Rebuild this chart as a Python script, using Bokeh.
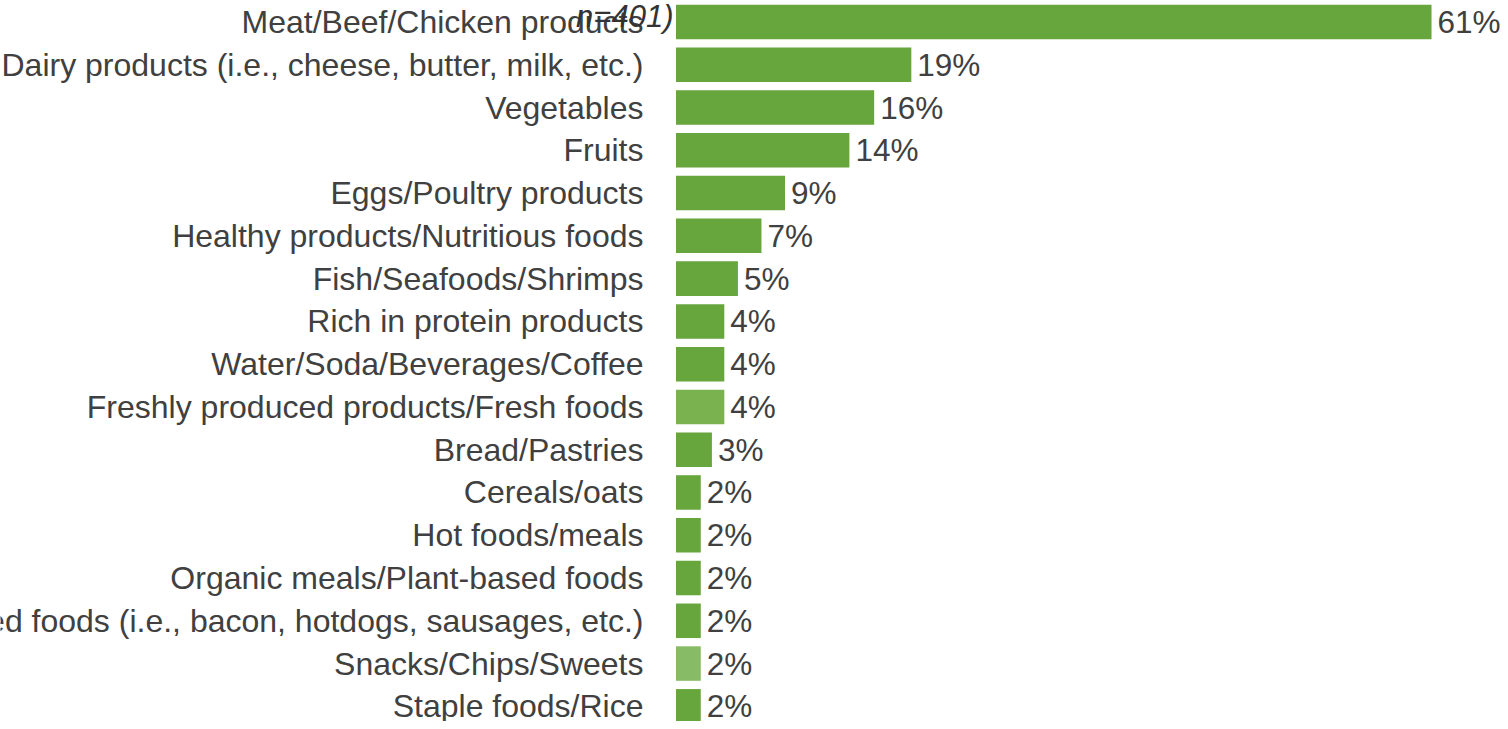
from bokeh.plotting import figure
from bokeh.models import Range1d, ColumnDataSource
from bokeh.core.properties import value
from bokeh.embed import file_html
from bokeh.resources import INLINE

categories = [
    "Meat/Beef/Chicken products",
    "Dairy products (i.e., cheese, butter, milk, etc.)",
    "Vegetables",
    "Fruits",
    "Eggs/Poultry products",
    "Healthy products/Nutritious foods",
    "Fish/Seafoods/Shrimps",
    "Rich in protein products",
    "Water/Soda/Beverages/Coffee",
    "Freshly produced products/Fresh foods",
    "Bread/Pastries",
    "Cereals/oats",
    "Hot foods/meals",
    "Organic meals/Plant-based foods",
    "Processed foods (i.e., bacon, hotdogs, sausages, etc.)",
    "Snacks/Chips/Sweets",
    "Staple foods/Rice",
]
values = [61, 19, 16, 14, 8.8, 6.9, 5.0, 3.9, 3.9, 3.9, 2.9, 2.0, 2.0, 2.0, 2.0, 2.0, 2.0]
value_labels = ["61%", "19%", "16%", "14%", "9%", "7%", "5%", "4%", "4%", "4%", "3%",
                "2%", "2%", "2%", "2%", "2%", "2%"]
bar_colors = ["#67a53d"] * 9 + ["#79b24f"] + ["#67a53d"] * 5 + ["#88bb66"] + ["#67a53d"]
note_text = "n=401)"

pos = list(range(len(categories)))
src = ColumnDataSource(dict(y=pos, v=values, cat=categories, lab=value_labels,
                            color=bar_colors, zero=[0] * len(pos)))

p = figure(width=1500, height=721,
           x_range=Range1d(-54.54, 66.57), y_range=Range1d(16.355, -0.503),
           output_backend="svg", toolbar_location=None, min_border=0)
p.axis.visible = False
p.grid.visible = False
p.outline_line_color = None
p.background_fill_color = "white"

p.hbar(y="y", left=0, right="v", height=0.807, color="color", line_color=None, source=src)

font = value("Liberation Sans")
p.text(x="zero", y="y", text="cat", source=src, x_offset=-32.5, text_align="right",
       text_baseline="middle", text_font=font, text_font_size="32px", text_color="#404040")
p.text(x="v", y="y", text="lab", source=src, x_offset=6, text_align="left",
       text_baseline="middle", text_font=font, text_font_size="31.5px", text_color="#404040")

p.text(x=[0], y=[0], text=[note_text], x_offset=-2.5, y_offset=-6, text_align="right",
       text_baseline="middle", text_font=font, text_font_style="italic",
       text_font_size="31px", text_color="#333333")

open("out.html", "w").write(file_html(p, INLINE))
